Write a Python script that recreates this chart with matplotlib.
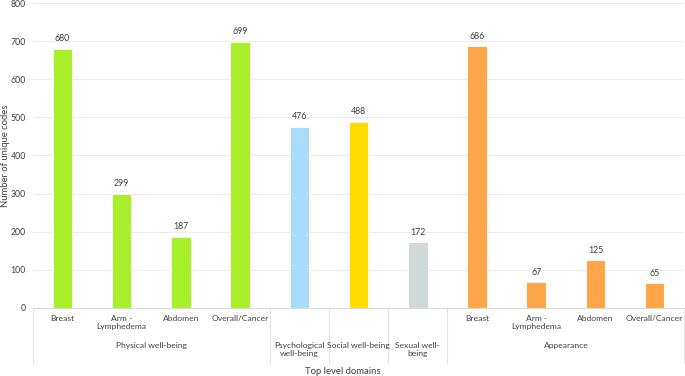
import matplotlib.pyplot as plt
import matplotlib.transforms as mtransforms
import numpy as np

plt.rcParams['font.family'] = ['Lato', 'DejaVu Sans']

# data
sub_labels = ['Breast', 'Arm -\nLymphedema', 'Abdomen', 'Overall/Cancer',
              '', '', '',
              'Breast', 'Arm -\nLymphedema', 'Abdomen', 'Overall/Cancer']
values = [680, 299, 187, 699, 476, 488, 172, 686, 67, 125, 65]
groups = ['Physical well-being', 'Psychological\nwell-being', 'Social well-being',
          'Sexual well-\nbeing', 'Appearance']
group_sizes = [4, 1, 1, 1, 4]
group_colors = ['#a8ee2a', '#a9dbfa', '#ffdc00', '#d1d9d8', '#ffa64b']

colors = []
for c, n in zip(group_colors, group_sizes):
    colors += [c] * n

fig = plt.figure(figsize=(6.85, 3.76), dpi=100)
ax = fig.add_axes([0.048, 0.181, 0.951, 0.811])

x = np.arange(len(values))
bars = ax.bar(x, values, width=0.33, color=colors, edgecolor='white', linewidth=0.6, zorder=3)
for b, v in zip(bars, values):
    ax.annotate(str(v), (b.get_x() + b.get_width() / 2, v), xytext=(0, 4),
                textcoords='offset points', ha='center', va='bottom',
                fontsize=6.3, color='#404040')

ax.set_xlim(-0.5, len(values) - 0.5)
ax.set_ylim(0, 800)
ax.set_yticks(range(0, 801, 100))
ax.tick_params(axis='y', length=0, labelsize=6.3, labelcolor='#404040', pad=5)
ax.set_xticks([])
ax.grid(axis='y', color='#ececec', linewidth=0.8, zorder=0)
for s in ['top', 'right', 'left']:
    ax.spines[s].set_visible(False)
ax.spines['bottom'].set_color('#d9d9d9')
ax.spines['bottom'].set_linewidth(0.8)

trans = mtransforms.blended_transform_factory(ax.transData, fig.transFigure)

# sub labels
for xi, lab in zip(x, sub_labels):
    if lab:
        ax.text(xi, 1 - 315 / 376, lab, transform=trans, ha='center', va='top',
                fontsize=6.1, color='#404040', linespacing=1.15)

# group labels and separators
start = -0.5
bounds = [start]
for g, n in zip(groups, group_sizes):
    mid = start + n / 2
    ax.text(mid, 1 - 342 / 376, g, transform=trans, ha='center', va='top',
            fontsize=6.1, color='#404040', linespacing=1.15)
    start += n
    bounds.append(start)
for b in bounds:
    ax.plot([b, b], [0.181, 1 - 363 / 376], transform=trans, color='#e3e3e3',
            linewidth=0.8, clip_on=False)

fig.text(0.5, 1 - 371 / 376, 'Top level domains', ha='center', va='center',
         fontsize=6.8, color='#404040')
fig.text(0.008, 0.585, 'Number of unique codes', rotation=90, ha='center', va='center',
         fontsize=6.8, color='#404040')

fig.savefig('out.png', dpi=100)
